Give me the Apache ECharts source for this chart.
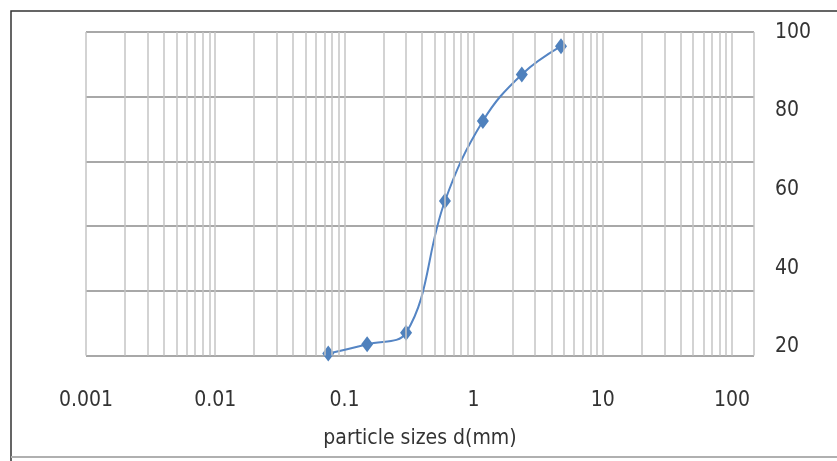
<!DOCTYPE html>
<html>
<head>
<meta charset="utf-8">
<script src="https://cdn.jsdelivr.net/npm/echarts@6/dist/echarts.min.js"></script>
<style>
  html, body { margin: 0; padding: 0; background: #fff; }
  #chart { width: 837px; height: 461px; }
</style>
</head>
<body>
<div id="chart"></div>
<script>
// sieve sizes (mm) and percent passing
var sizes = [0.075, 0.15, 0.3, 0.6, 1.18, 2.36, 4.75];
var passing = [20.5, 22.8, 25.6, 58.2, 78.0, 89.5, 96.5];
var yLabels = [20, 40, 60, 80, 100];
var xName = 'particle sizes d(mm)';

var font = "'Liberation Sans Narrow', 'DejaVu Sans Condensed', 'Liberation Sans', sans-serif";

// log grid lines 2..9 in every decade
var minorLines = [];
for (var k = -3; k <= 1; k++) {
  for (var m = 2; m <= 9; m++) {
    var v = +(m * Math.pow(10, k)).toPrecision(3);
    minorLines.push([{ coord: [v, 20] }, { coord: [v, 100] }]);
  }
}

var chart = echarts.init(document.getElementById('chart'));

var option = {
  animation: false,
  grid: { left: 86, right: 83, top: 32, bottom: 105.5 },
  graphic: [
    { type: 'polyline', shape: { points: [[11, 461], [11, 11], [837, 11]] }, style: { stroke: '#333', lineWidth: 1.5, fill: null } },
    { type: 'line', shape: { x1: 11, y1: 457, x2: 837, y2: 457 }, style: { stroke: '#b0b0b0', lineWidth: 2 } }
  ],
  xAxis: {
    type: 'log',
    logBase: 10,
    min: 0.001,
    max: 148,
    name: xName,
    nameLocation: 'middle',
    nameGap: 73,
    nameTextStyle: { fontFamily: font, fontSize: 21, color: '#333' },
    axisLine: { show: false },
    axisTick: { show: false },
    axisLabel: {
      margin: 35,
      fontFamily: font,
      fontSize: 21,
      color: '#333',
      showMaxLabel: false
    },
    splitLine: { show: true, lineStyle: { color: '#c4c4c4', width: 1.5 } }
  },
  yAxis: [
    {
      // horizontal grid lines
      type: 'value', min: 0, max: 5, interval: 1,
      axisLine: { show: false }, axisTick: { show: false }, axisLabel: { show: false },
      splitLine: { show: true, lineStyle: { color: '#a8a8a8', width: 2 } }
    },
    {
      // data scale
      type: 'value', min: 20, max: 100, show: false,
      splitLine: { show: false }
    },
    {
      // tick labels on the right
      type: 'value', position: 'right', min: 17.84, max: 100.08,
      axisLine: { show: false }, axisTick: { show: false },
      splitLine: { show: false },
      axisLabel: {
        customValues: yLabels,
        margin: 21,
        fontFamily: font,
        fontSize: 21,
        color: '#333'
      }
    }
  ],
  series: [
    {
      type: 'line',
      yAxisIndex: 1,
      data: [],
      z: 1,
      silent: true,
      markLine: {
        silent: true,
        symbol: ['none', 'none'],
        label: { show: false },
        lineStyle: { color: '#c4c4c4', width: 1.5, type: 'solid' },
        emphasis: { disabled: true },
        data: minorLines
      }
    },
    {
      type: 'line',
      yAxisIndex: 1,
      z: 3,
      smooth: 0.4,
      symbol: 'diamond',
      symbolSize: [12, 16],
      lineStyle: { color: '#5585c4', width: 2 },
      itemStyle: { color: '#4f81bd' },
      data: sizes.map(function (s, i) { return [s, passing[i]]; })
    }
  ]
};

chart.setOption(option);
</script>
</body>
</html>
